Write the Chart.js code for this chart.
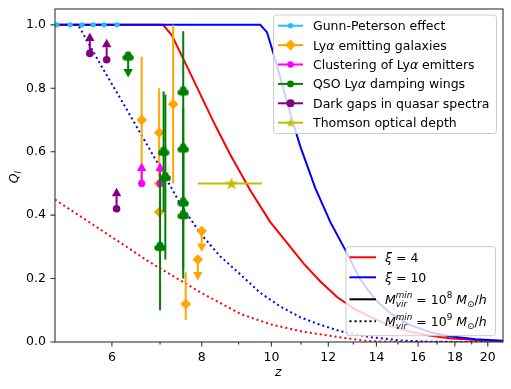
<!DOCTYPE html>
<html>
<head>
<meta charset="utf-8">
<script src="https://cdn.jsdelivr.net/npm/chart.js@4.4.1/dist/chart.umd.min.js"></script>
<style>
  html, body { margin: 0; padding: 0; background: #fff; }
</style>
</head>
<body>
<canvas id="reion" width="511" height="389"></canvas>
<script>
// observational constraints on ionized fraction Q_I vs redshift z
const zGP = [5.03, 5.25, 5.45, 5.65, 5.85, 6.1];
const qGP = [1, 1, 1, 1, 1, 1];

const zLAE = [6.6, 6.98, 6.98, 6.98, 7.3, 7.6, 7.9, 8.0];
const qLAE = [0.70, 0.66, 0.50, 0.41, 0.75, 0.12, 0.26, 0.35];
const loLAE = [0.50, 0.52, null, null, 0.50, 0.07, null, null];
const hiLAE = [0.90, 0.80, null, null, 1.00, 0.22, null, null];
const limLAE = [0, 0, 0, 0, 0, 0, -1, -1];   // -1 upper limit, +1 lower limit

const zCL = [6.6, 7.0];
const qCL = [0.50, 0.50];
const limCL = [1, 1];

const zQSO = [6.32, 7.0, 7.08, 7.12, 7.54, 7.54, 7.54, 7.54];
const qQSO = [0.90, 0.30, 0.60, 0.52, 0.79, 0.61, 0.44, 0.40];
const loQSO = [null, 0.10, 0.41, 0.26, 0.62, 0.39, 0.23, 0.20];
const hiQSO = [null, 0.53, 0.79, 0.78, 0.98, 0.74, 0.62, 0.63];
const limQSO = [-1, 0, 0, 0, 0, 0, 0, 0];

const zDG = [5.59, 5.90, 6.09];
const qDG = [0.91, 0.89, 0.42];
const limDG = [1, 1, 1];

const zTau = [8.8];
const qTau = [0.5];
const zTauLo = [7.9];
const zTauHi = [9.7];

// model curves: xi = 4 / 10, M_vir^min = 1e8 / 1e9
const zXi4M8 = [5.0, 7.07, 7.27, 7.71, 8.35, 8.76, 9.34, 9.96, 10.44, 11.09, 11.70, 12.34, 13.01, 13.73, 14.65, 15.62, 16.65, 17.7, 19.24, 21];
const qXi4M8 = [1, 1, 0.967, 0.848, 0.684, 0.592, 0.479, 0.379, 0.321, 0.247, 0.191, 0.142, 0.106, 0.079, 0.05, 0.032, 0.02, 0.012, 0.006, 0.002];
const zXi10M8 = [5.0, 9.65, 9.86, 10.13, 10.62, 10.97, 11.51, 12.08, 12.68, 13.30, 13.96, 14.65, 15.62, 16.65, 17.7, 19.24, 21];
const qXi10M8 = [1, 1, 0.977, 0.889, 0.721, 0.617, 0.485, 0.378, 0.289, 0.196, 0.133, 0.09, 0.053, 0.031, 0.018, 0.009, 0.004];
const zXi10M9 = [5.0, 5.385, 5.77, 6.16, 6.56, 7.0, 7.46, 7.96, 8.49, 9.05, 9.65, 10.29, 10.97, 11.70, 12.48, 13.73, 15.12, 16.65, 21];
const qXi10M9 = [1, 1, 0.879, 0.769, 0.662, 0.551, 0.4375, 0.343, 0.270, 0.2136, 0.155, 0.112, 0.078, 0.054, 0.034, 0.015, 0.005, 0.0006, 0];
const zXi4M9 = [5.0, 5.77, 6.78, 7.96, 9.05, 9.96, 11.09, 12.34, 13.6, 15.12, 21];
const qXi4M9 = [0.449, 0.356, 0.251, 0.157, 0.089, 0.056, 0.032, 0.016, 0.003, 0, 0];

const xTicks = [6, 7, 8, 9, 10, 11, 12, 13, 14, 15, 16, 17, 18, 19, 20];
const yTicks = [0, 0.2, 0.4, 0.6, 0.8, 1.0];

const FONT = '"DejaVu Sans"';
Chart.defaults.font.family = FONT;
Chart.defaults.font.size = 12.5;
Chart.defaults.color = '#000';

const pts = (xs, ys) => xs.map((x, i) => ({ x: x, y: ys[i] }));

function makeStar(color, ro) {
  const s = Math.ceil(ro * 2 + 2);
  const c = document.createElement('canvas');
  c.width = s; c.height = s;
  const g = c.getContext('2d');
  g.beginPath();
  for (let i = 0; i < 10; i++) {
    const r = i % 2 === 0 ? ro : ro * 0.41;
    const a = -Math.PI / 2 + i * Math.PI / 5;
    g.lineTo(s / 2 + r * Math.cos(a), s / 2 + 0.5 + r * Math.sin(a));
  }
  g.closePath();
  g.fillStyle = color;
  g.fill();
  return c;
}
function makeClub(color) {
  const c = document.createElement('canvas');
  c.width = 12; c.height = 12;
  const g = c.getContext('2d');
  g.fillStyle = color;
  [[6, 4, 3.3], [3.3, 7, 3], [8.7, 7, 3], [6, 7.5, 3]].forEach(([x, y, r]) => {
    g.beginPath(); g.arc(x, y, r, 0, Math.PI * 2); g.fill();
  });
  return c;
}
const starImg = makeStar('#bfbf00', 6.8);
const starSmall = makeStar('#bfbf00', 5);
const clubImg = makeClub('#008000');

const curve = (zs, qs, color, dotted) => ({
  data: pts(zs, qs),
  showLine: true,
  borderColor: color,
  borderWidth: 2,
  borderDash: dotted ? [2, 3] : [],
  borderCapStyle: 'butt',
  pointRadius: 0,
  tension: 0,
  order: 10
});

const datasets = [
  { label: 'Thomson optical depth', data: pts(zTau, qTau), borderColor: '#bfbf00', backgroundColor: '#bfbf00',
    pointStyle: starImg, pointRadius: 7, bars: { xlo: zTauLo, xhi: zTauHi }, order: 1 },
  { label: 'Dark gaps in quasar spectra', data: pts(zDG, qDG), borderColor: '#800080', backgroundColor: '#800080',
    pointStyle: 'circle', pointRadius: 3.8, pointBorderWidth: 0, bars: { lim: limDG }, order: 2 },
  { label: 'QSO Ly\u03b1 damping wings', data: pts(zQSO, qQSO), borderColor: '#008000', backgroundColor: '#008000',
    pointStyle: clubImg, pointRadius: 5, bars: { lo: loQSO, hi: hiQSO, lim: limQSO }, order: 3 },
  { label: 'Clustering of Ly\u03b1 emitters', data: pts(zCL, qCL), borderColor: '#ff00ff', backgroundColor: '#ff00ff',
    pointStyle: 'circle', pointRadius: 3.6, pointBorderWidth: 0, bars: { lim: limCL }, order: 4 },
  { label: 'Ly\u03b1 emitting galaxies', data: pts(zLAE, qLAE), borderColor: '#ffa500', backgroundColor: '#ffa500',
    pointStyle: 'rectRot', pointRadius: 5.3, pointBorderWidth: 0, bars: { lo: loLAE, hi: hiLAE, lim: limLAE }, order: 5 },
  { label: 'Gunn-Peterson effect', data: pts(zGP, qGP), borderColor: '#1ec0f5', backgroundColor: '#1ec0f5',
    pointStyle: 'circle', pointRadius: 2.6, pointBorderWidth: 0, order: 6 },
  curve(zXi10M8, qXi10M8, '#0000ff', false),
  curve(zXi4M8, qXi4M8, '#ff0000', false),
  curve(zXi10M9, qXi10M9, '#0000ff', true),
  curve(zXi4M9, qXi4M9, '#ff0000', true)
];

function rich(ctx, segs, x, y) {
  let cx = x, held = 0;
  segs.forEach(s => {
    ctx.font = (s.it ? 'italic ' : '') + (s.sz || 12.5) + 'px ' + FONT;
    ctx.fillText(s.t, cx, y + (s.dy || 0));
    const w = ctx.measureText(s.t).width;
    if (s.hold) { held = w; }
    else { cx += Math.max(w, held); held = 0; }
  });
  return cx - x;
}
function richWidth(ctx, segs) {
  let w = 0, held = 0;
  segs.forEach(s => {
    ctx.font = (s.it ? 'italic ' : '') + (s.sz || 12.5) + 'px ' + FONT;
    const m = ctx.measureText(s.t).width;
    if (s.hold) held = m; else { w += Math.max(m, held); held = 0; }
  });
  return w;
}

function roundBox(ctx, x, y, w, h) {
  ctx.save();
  ctx.beginPath();
  ctx.roundRect(x, y, w, h, 3);
  ctx.fillStyle = 'rgba(255,255,255,0.8)';
  ctx.fill();
  ctx.strokeStyle = '#cccccc';
  ctx.lineWidth = 1;
  ctx.stroke();
  ctx.restore();
}

function arrow(ctx, px, py, dir) {
  const tip = py - dir * 21;
  const base = tip + dir * 8.5;
  ctx.beginPath(); ctx.moveTo(px, py); ctx.lineTo(px, base); ctx.stroke();
  ctx.beginPath();
  ctx.moveTo(px, tip); ctx.lineTo(px - 4.7, base); ctx.lineTo(px + 4.7, base);
  ctx.closePath(); ctx.fill();
}

const decor = {
  id: 'decor',
  beforeDatasetDraw(chart, args) {
    const ds = chart.data.datasets[args.index];
    if (!ds.bars) return;
    const { ctx } = chart;
    const xs = chart.scales.x, ys = chart.scales.y;
    const b = ds.bars;
    ctx.save();
    ctx.strokeStyle = ds.borderColor;
    ctx.fillStyle = ds.borderColor;
    ctx.lineWidth = 2;
    ds.data.forEach((p, i) => {
      const px = xs.getPixelForValue(p.x), py = ys.getPixelForValue(p.y);
      if (b.lo && b.lo[i] != null) {
        ctx.beginPath();
        ctx.moveTo(px, ys.getPixelForValue(b.lo[i]));
        ctx.lineTo(px, ys.getPixelForValue(b.hi[i]));
        ctx.stroke();
      }
      if (b.xlo) {
        ctx.beginPath();
        ctx.moveTo(xs.getPixelForValue(b.xlo[i]), py);
        ctx.lineTo(xs.getPixelForValue(b.xhi[i]), py);
        ctx.stroke();
      }
      if (b.lim && b.lim[i]) arrow(ctx, px, py, b.lim[i]);
    });
    ctx.restore();
  },
  afterDraw(chart) {
    const { ctx, chartArea: a } = chart;
    const xs = chart.scales.x, ys = chart.scales.y;
    ctx.save();
    // frame and ticks
    ctx.strokeStyle = '#333';
    ctx.lineWidth = 1.1;
    ctx.strokeRect(a.left, a.top, a.right - a.left, a.bottom - a.top);
    ctx.beginPath();
    xTicks.forEach(v => {
      const px = xs.getPixelForValue(v);
      ctx.moveTo(px, a.bottom); ctx.lineTo(px, a.bottom + (v % 2 === 0 ? 4.5 : 2.6));
    });
    yTicks.forEach(v => {
      const py = ys.getPixelForValue(v);
      ctx.moveTo(a.left, py); ctx.lineTo(a.left - 4.5, py);
    });
    ctx.stroke();

    ctx.fillStyle = '#000';
    ctx.textBaseline = 'alphabetic';
    ctx.textAlign = 'left';
    // axis titles
    ctx.font = 'italic 12.5px ' + FONT;
    ctx.fillText('z', 275, 376);
    ctx.save();
    ctx.translate(18, 177);
    ctx.rotate(-Math.PI / 2);
    const qSegs = [{ t: 'Q', it: true }, { t: 'I', it: true, sz: 8.8, dy: 3 }];
    rich(ctx, qSegs, -richWidth(ctx, qSegs) / 2, 0);
    ctx.restore();

    // upper legend
    roundBox(ctx, 273.5, 15, 223, 118.5);
    const rows1 = [
      { c: '#1ec0f5', m: 'dot', r: 2.6, segs: [{ t: 'Gunn-Peterson effect' }] },
      { c: '#ffa500', m: 'diamond', r: 5.5, segs: [{ t: 'Ly' }, { t: '\u03b1', it: true }, { t: ' emitting galaxies' }] },
      { c: '#ff00ff', m: 'dot', r: 3.2, segs: [{ t: 'Clustering of Ly' }, { t: '\u03b1', it: true }, { t: ' emitters' }] },
      { c: '#008000', m: 'dot', r: 3.4, segs: [{ t: 'QSO Ly' }, { t: '\u03b1', it: true }, { t: ' damping wings' }] },
      { c: '#800080', m: 'dot', r: 4, segs: [{ t: 'Dark gaps in quasar spectra' }] },
      { c: '#bfbf00', m: 'star', r: 0, segs: [{ t: 'Thomson optical depth' }] }
    ];
    rows1.forEach((row, i) => {
      const cy = 25.7 + i * 19.4;
      ctx.strokeStyle = row.c; ctx.fillStyle = row.c; ctx.lineWidth = 2;
      ctx.beginPath(); ctx.moveTo(278, cy); ctx.lineTo(303, cy); ctx.stroke();
      ctx.beginPath();
      if (row.m === 'dot') { ctx.arc(290.5, cy, row.r, 0, Math.PI * 2); ctx.fill(); }
      else if (row.m === 'diamond') {
        ctx.moveTo(290.5, cy - row.r); ctx.lineTo(290.5 + row.r, cy);
        ctx.lineTo(290.5, cy + row.r); ctx.lineTo(290.5 - row.r, cy); ctx.closePath(); ctx.fill();
      } else { ctx.drawImage(starSmall, 290.5 - starSmall.width / 2, cy - starSmall.height / 2); }
      ctx.fillStyle = '#000';
      rich(ctx, row.segs, 313, cy + 4.5);
    });

    // lower legend
    roundBox(ctx, 346, 246.7, 149.5, 89);
    const rows2 = [
      { c: '#ff0000', dash: [], cy: 257.3, segs: [{ t: '\u03be', it: true }, { t: ' = 4' }] },
      { c: '#0000ff', dash: [], cy: 277.3, segs: [{ t: '\u03be', it: true }, { t: ' = 10' }] },
      { c: '#000000', dash: [], cy: 299.3, segs: [{ t: 'M', it: true }, { t: 'min', it: true, sz: 8.8, dy: -5.5, hold: true },
        { t: 'vir', it: true, sz: 8.8, dy: 3.2 }, { t: ' = 10' }, { t: '8', sz: 8.8, dy: -5.5 }, { t: ' M', it: true },
        { t: '\u2299', sz: 8.8, dy: 3 }, { t: '/' }, { t: 'h', it: true }] },
      { c: '#000000', dash: [2, 3], cy: 321.3, segs: [{ t: 'M', it: true }, { t: 'min', it: true, sz: 8.8, dy: -5.5, hold: true },
        { t: 'vir', it: true, sz: 8.8, dy: 3.2 }, { t: ' = 10' }, { t: '9', sz: 8.8, dy: -5.5 }, { t: ' M', it: true },
        { t: '\u2299', sz: 8.8, dy: 3 }, { t: '/' }, { t: 'h', it: true }] }
    ];
    rows2.forEach(row => {
      ctx.strokeStyle = row.c; ctx.lineWidth = 2; ctx.setLineDash(row.dash);
      ctx.beginPath(); ctx.moveTo(349.5, row.cy); ctx.lineTo(376, row.cy); ctx.stroke();
      ctx.setLineDash([]);
      ctx.fillStyle = '#000';
      rich(ctx, row.segs, 385, row.cy + 4.5);
    });
    ctx.restore();
  }
};

new Chart(document.getElementById('reion'), {
  type: 'scatter',
  data: { datasets: datasets },
  options: {
    responsive: false,
    animation: false,
    devicePixelRatio: 1,
    layout: { padding: { left: 0, right: 8, top: 9, bottom: 0 } },
    plugins: { legend: { display: false }, tooltip: { enabled: false } },
    scales: {
      x: {
        type: 'logarithmic',
        min: 5, max: 21,
        grid: { display: false, drawTicks: true, tickLength: 7 },
        border: { display: false },
        afterFit: s => { s.height = 47; },
        afterBuildTicks: s => { s.ticks = xTicks.map(v => ({ value: v })); },
        ticks: {
          autoSkip: false, maxRotation: 0, padding: 1,
          callback: v => (v % 2 === 0 ? String(v) : '')
        }
      },
      y: {
        min: 0, max: 1.05,
        grid: { display: false, drawTicks: true, tickLength: 8.5 },
        border: { display: false },
        afterFit: s => { s.width = 55; },
        afterBuildTicks: s => { s.ticks = yTicks.map(v => ({ value: v })); },
        ticks: { padding: 0.5, callback: v => v.toFixed(1) }
      }
    }
  },
  plugins: [decor]
});
</script>
</body>
</html>
